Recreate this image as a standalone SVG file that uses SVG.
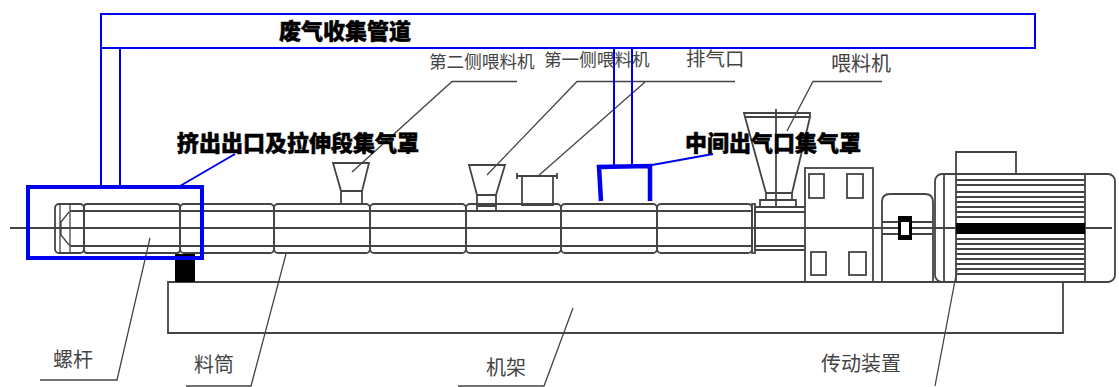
<svg xmlns="http://www.w3.org/2000/svg" width="1119" height="387" viewBox="0 0 1119 387">
<style>
.m{fill:none;stroke:#444;stroke-width:1.800}
.t{fill:none;stroke:#444;stroke-width:1.300}
.b{fill:none;stroke:#0000f0}
.l{font-family:"Noto Sans CJK SC","Liberation Serif",serif;fill:#444}
.h{font-family:"Noto Sans CJK SC","Liberation Sans",sans-serif;font-weight:900;font-size:22px;fill:#000;stroke:#000;stroke-width:.5}
</style>
<rect width="1119" height="387" fill="#fff"/>
<g id="connectors">
<path class="t" d="M517 81.500H452L352 172M735 81.500H577L487 175M645 82L537 177M882 81.500H813L787 131M40 380H117L150 238M186 386H251L286 254M458 386H544L573 308M935 386L957 270"/>
<path class="b" stroke-width="2" d="M180 186L235 154M652 165L713 154"/>
</g>
<g id="machine">
<path class="m" d="M10 228H1112"/>
<g id="barrel">
<rect class="m" x="55" y="204" width="29" height="49" rx="4"/>
<path class="t" d="M60 204V253M70 204V253M69 212L61 222V235L69 245"/>
<path class="m" d="M70 211H84M70 246H84"/>
<rect class="m" x="84" y="204" width="96" height="49" rx="3"/>
<rect class="m" x="180" y="204" width="94" height="49" rx="4"/>
<rect class="m" x="274" y="204" width="96" height="49" rx="4"/>
<rect class="m" x="370" y="204" width="96" height="49" rx="4"/>
<rect class="m" x="466" y="204" width="95" height="49" rx="4"/>
<rect class="m" x="561" y="204" width="96" height="49" rx="4"/>
<rect class="m" x="657" y="204" width="95" height="49" rx="4"/>
<path class="m" d="M84 211H752M84 246H752"/>
</g>
<g id="frame">
<path class="m" d="M1063 282V333H168V282H1063"/>
<rect x="175" y="254" width="20" height="28" fill="#000"/>
</g>
<g id="side-feeder-2">
<path class="m" d="M333 163H369L362 191V204H341V191ZM341 191H362"/>
</g>
<g id="side-feeder-1">
<path class="m" d="M469 165H505L496 195V211H477V195ZM477 195H496M477 206H496"/>
</g>
<g id="vent">
<path class="m" d="M517 176H557M517 173V179M557 173V179M522 176V205H553V176"/>
</g>
<g id="main-feeder">
<path class="m" d="M744 113H810V117H745ZM745 117L766 193H792L810 117M766 193V200H792V193M760 207V200H796V207M776 109V207"/>
<path class="m" d="M755 250V207H805M755 212H805M755 246H805M755 250H805"/>
<rect class="m" x="752" y="204" width="3" height="49"/>
</g>
<g id="gearbox">
<rect class="m" x="805" y="168" width="68" height="114" fill="#fff"/>
<rect class="m" x="809" y="174" width="15" height="24"/>
<rect class="m" x="847" y="174" width="16" height="24"/>
<rect class="m" x="811" y="252" width="15" height="23"/>
<rect class="m" x="849" y="252" width="17" height="23"/>
<path class="m" d="M805 228H873"/>
</g>
<g id="coupling">
<path class="m" d="M882 282V202Q882 194 890 194H925Q933 194 933 202V282M882 222H933M882 234H933"/>
<rect x="898" y="216" width="14" height="24" fill="#000"/>
<rect x="901" y="222" width="8" height="13" fill="#fff"/>
</g>
<g id="motor">
<path class="m" d="M956 174V152H1016V174"/>
<rect class="m" x="935" y="174" width="180" height="108" rx="7" fill="#fff"/>
<path class="m" d="M944 174V282M956 174V282M1085 174V282M1085 228H1112"/>
<path class="m" d="M956 180H1085M956 185H1085M956 192H1085M956 197H1085M956 202H1085M956 207H1085M956 212H1085M956 217H1085M956 239H1085M956 244H1085M956 249H1085M956 254H1085M956 259H1085M956 264H1085M956 269H1085M956 274H1085"/>
<rect x="956" y="223" width="129" height="11" fill="#000"/>
</g>
</g>
<g id="collection-duct">
<rect class="b" stroke-width="2" x="101" y="14" width="934" height="34"/>
<text class="h" x="279" y="39">废气收集管道</text>
</g>
<g id="left-riser"><path class="b" stroke-width="2" d="M101 48V186M120 48V186"/></g>
<g id="middle-riser"><path class="b" stroke-width="2" d="M614 48V165M632 48V165"/></g>
<g id="outlet-hood">
<rect class="b" stroke-width="4" x="28" y="187" width="174" height="71"/>
<text class="h" x="177" y="151">挤出出口及拉伸段集气罩</text>
</g>
<g id="middle-hood">
<path class="b" stroke-width="4.500" d="M601 201L599 167L650 166V201"/>
<text class="h" x="685" y="151">中间出气口集气罩</text>
</g>
<g id="labels">
<text class="l" x="429" y="68" font-size="17.600">第二侧喂料机</text>
<text class="l" x="544" y="66" font-size="17.600">第一侧喂料机</text>
<text class="l" x="686" y="66" font-size="19.500">排气口</text>
<text class="l" x="831" y="71" font-size="20">喂料机</text>
<text class="l" x="53" y="367" font-size="20">螺杆</text>
<text class="l" x="194" y="372" font-size="20">料筒</text>
<text class="l" x="486" y="375" font-size="20">机架</text>
<text class="l" x="821" y="371" font-size="20">传动装置</text>
</g>
</svg>
